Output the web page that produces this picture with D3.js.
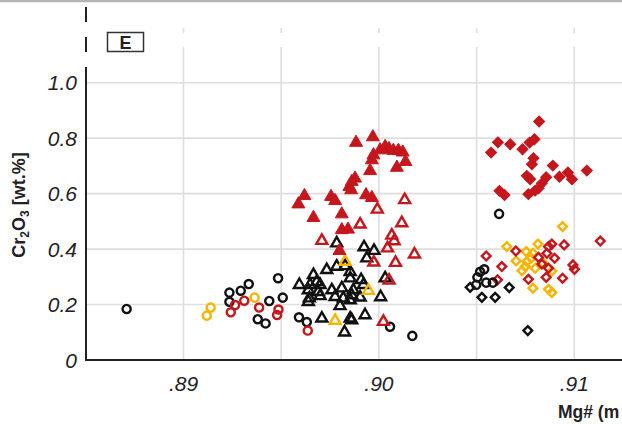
<!DOCTYPE html>
<html>
<head>
<meta charset="utf-8">
<script src="https://cdn.jsdelivr.net/npm/d3@7"></script>
<style>
  body { margin: 0; background: #fff; }
  svg { display: block; font-family: "Liberation Sans", Arial, sans-serif; }
</style>
</head>
<body>
<svg id="chart" width="622" height="424"></svg>
<script>
// Mg# vs Cr2O3 (wt.%), panel E
let xTicks = [0.89, 0.90, 0.91];
let xGrid = [0.89, 0.895, 0.90, 0.905, 0.91, 0.915];
let yTicks = [0, 0.2, 0.4, 0.6, 0.8, 1.0];
let xTickLabels = [".89", ".90", ".91"];

// [Mg#, Cr2O3]
let blackCircles = [[0.88709, 0.184], [0.89235, 0.243], [0.89235, 0.210], [0.89293, 0.250], [0.89334, 0.274],
    [0.89484, 0.295], [0.89439, 0.213], [0.89508, 0.225], [0.8938, 0.147], [0.8942, 0.132], [0.89591, 0.154],
    [0.89631, 0.137], [0.90057, 0.120], [0.90171, 0.087], [0.90615, 0.527], [0.90498, 0.271], [0.90549, 0.279],
    [0.90583, 0.279], [0.90504, 0.298], [0.90518, 0.318], [0.90539, 0.327]];
let yellowCircles = [[0.89139, 0.189], [0.89119, 0.160], [0.89364, 0.225]];
let redCircles = [[0.89264, 0.198], [0.89242, 0.172], [0.89311, 0.214], [0.89387, 0.189], [0.89486, 0.182],
    [0.89479, 0.162], [0.89636, 0.106]];

let blackTriangles = [[0.89784, 0.421], [0.89924, 0.407], [0.89975, 0.394], [0.89938, 0.367], [0.89733, 0.325],
    [0.89784, 0.337], [0.89827, 0.339], [0.89853, 0.318], [0.89665, 0.307], [0.89853, 0.295], [0.89909, 0.289],
    [0.90032, 0.295], [0.89593, 0.271], [0.89648, 0.271], [0.89682, 0.282], [0.89699, 0.271], [0.89639, 0.252],
    [0.8969, 0.246], [0.89759, 0.252], [0.8981, 0.259], [0.89869, 0.252], [0.89921, 0.271], [0.89644, 0.223],
    [0.89699, 0.231], [0.89776, 0.228], [0.89818, 0.223], [0.89861, 0.234], [0.89904, 0.226], [0.90009, 0.227],
    [0.89801, 0.195], [0.89853, 0.216], [0.89639, 0.210], [0.89708, 0.150], [0.89853, 0.150], [0.89861, 0.144],
    [0.89929, 0.162], [0.89824, 0.100]];
let yellowTriangles = [[0.89827, 0.355], [0.89946, 0.250], [0.89776, 0.142]];
let redTriangles = [[0.90132, 0.577], [0.89992, 0.543], [0.90117, 0.494], [0.89904, 0.489], [0.89708, 0.430],
    [0.90066, 0.449], [0.90078, 0.429], [0.90044, 0.403], [0.90182, 0.381], [0.89974, 0.352], [0.90085, 0.351],
    [0.90052, 0.287], [0.90023, 0.138]];
let redTrianglesFilled = [[0.89883, 0.784], [0.89969, 0.804], [0.90006, 0.757], [0.90032, 0.769], [0.90052, 0.761],
    [0.90074, 0.755], [0.901, 0.755], [0.90122, 0.749], [0.89972, 0.739], [0.89964, 0.721], [0.90136, 0.715],
    [0.90092, 0.694], [0.89955, 0.682], [0.89878, 0.655], [0.89861, 0.643], [0.89849, 0.625], [0.89858, 0.613],
    [0.89934, 0.595], [0.89964, 0.585], [0.89619, 0.592], [0.89588, 0.562], [0.89755, 0.589], [0.89776, 0.574],
    [0.89665, 0.513], [0.8981, 0.526], [0.8981, 0.469], [0.89842, 0.471], [0.89798, 0.394]];

let blackDiamonds = [[0.90467, 0.262], [0.90527, 0.226], [0.90595, 0.226], [0.90667, 0.261], [0.90762, 0.106]];
let yellowDiamonds = [[0.9094, 0.481], [0.90655, 0.409], [0.90814, 0.418], [0.90754, 0.391], [0.90788, 0.385],
    [0.90702, 0.357], [0.90757, 0.355], [0.90779, 0.367], [0.90839, 0.351], [0.90749, 0.337], [0.90732, 0.322],
    [0.908, 0.331], [0.90885, 0.321], [0.90788, 0.259], [0.90868, 0.255], [0.90885, 0.243]];
let redDiamonds = [[0.91133, 0.429], [0.90549, 0.375], [0.90701, 0.393], [0.90629, 0.337], [0.90817, 0.370],
    [0.90868, 0.409], [0.90885, 0.418], [0.90948, 0.415], [0.9086, 0.385], [0.90899, 0.367], [0.90834, 0.346],
    [0.90868, 0.331], [0.90993, 0.343], [0.91001, 0.327], [0.90856, 0.298], [0.90765, 0.291], [0.9094, 0.295],
    [0.90607, 0.289]];
let redDiamondsFilled = [[0.9082, 0.860], [0.90609, 0.785], [0.90672, 0.778], [0.90574, 0.748], [0.90735, 0.760],
    [0.90771, 0.784], [0.90796, 0.796], [0.90791, 0.728], [0.90783, 0.706], [0.9089, 0.701], [0.90757, 0.664],
    [0.90774, 0.652], [0.90856, 0.659], [0.90834, 0.637], [0.90817, 0.619], [0.908, 0.611], [0.90765, 0.598],
    [0.90924, 0.661], [0.90967, 0.676], [0.90988, 0.652], [0.91064, 0.683], [0.90617, 0.610], [0.90643, 0.595]];

const RED = "#c4161c", YEL = "#f7b500", BLK = "#111";

let svg = d3.select("#chart");
let left = 86, bottom = 360, right = 622;

let x = d3.scaleLinear().domain([0.89, 0.91]).range([183.5, 574.3]);
let y = d3.scaleLinear().domain([0, 1]).range([360, 82.7]);

// top border from previous panel
svg.append("line").attr("x1", 0).attr("x2", 622).attr("y1", 1).attr("y2", 1)
    .attr("stroke", "#b5b5b5").attr("stroke-width", 2.5);

// grid
let grid = svg.append("g").attr("stroke", "#dedede").attr("stroke-width", 1.6);
grid.selectAll(".hg").data(yTicks.filter(d => d > 0)).enter().append("line")
    .attr("x1", left).attr("x2", right)
    .attr("y1", d => y(d)).attr("y2", d => y(d));
grid.selectAll(".vg").data(xGrid).enter().append("line")
    .attr("x1", d => x(d)).attr("x2", d => x(d))
    .attr("y1", 47).attr("y2", bottom);
grid.selectAll(".vs").data(xGrid).enter().append("line")
    .attr("x1", d => x(d)).attr("x2", d => x(d))
    .attr("y1", 28).attr("y2", 33);

// axes
svg.append("line").attr("x1", left).attr("x2", left).attr("y1", 67).attr("y2", bottom + 1)
    .attr("stroke", "#222").attr("stroke-width", 2);
svg.append("line").attr("x1", left - 1).attr("x2", right).attr("y1", bottom).attr("y2", bottom)
    .attr("stroke", "#222").attr("stroke-width", 2);
[[7, 22], [37, 52]].forEach(function (s) {
    svg.append("line").attr("x1", left).attr("x2", left).attr("y1", s[0]).attr("y2", s[1])
        .attr("stroke", "#222").attr("stroke-width", 2);
});

// tick labels
svg.selectAll(".yl").data(yTicks).enter().append("text")
    .attr("x", 77).attr("y", d => y(d)).attr("dy", "0.36em")
    .attr("text-anchor", "end").attr("font-style", "italic").attr("font-size", 21)
    .attr("fill", "#222")
    .text(d => d === 0 ? "0" : d.toFixed(1));
svg.selectAll(".xl").data(xTicks).enter().append("text")
    .attr("x", (d, i) => x(d)).attr("y", 391)
    .attr("text-anchor", "middle").attr("font-style", "italic").attr("font-size", 21)
    .attr("fill", "#222")
    .text((d, i) => xTickLabels[i]);

// axis titles
let yt = svg.append("text").attr("transform", "translate(25,205) rotate(-90)")
    .attr("text-anchor", "middle").attr("font-weight", "bold").attr("font-size", 18).attr("fill", "#222");
yt.append("tspan").text("Cr");
yt.append("tspan").attr("font-size", 12).attr("dy", 4).text("2");
yt.append("tspan").attr("dy", -4).text("O");
yt.append("tspan").attr("font-size", 12).attr("dy", 4).text("3");
yt.append("tspan").attr("dy", -4).text(" [wt.%]");

// x title runs off the right edge in the source panel; only the visible part is kept
svg.append("text").attr("x", 558).attr("y", 418)
    .attr("font-weight", "bold").attr("font-size", 17.5).attr("fill", "#222")
    .text("Mg# (m");

// panel label
svg.append("rect").attr("x", 107.5).attr("y", 32.5).attr("width", 36).attr("height", 19)
    .attr("fill", "#fff").attr("stroke", "#333").attr("stroke-width", 1.5);
svg.append("text").attr("x", 125.5).attr("y", 48.5).attr("text-anchor", "middle")
    .attr("font-weight", "bold").attr("font-size", 18).attr("fill", "#222").text("E");

// markers
let marks = svg.append("g");
function drawSeries(data, shape, color, filled, size) {
    let sym = d3.symbol().type(shape).size(size);
    let rot = shape === d3.symbolSquare ? " rotate(45)" : "";
    marks.append("g").selectAll("path").data(data).enter().append("path")
        .attr("d", sym)
        .attr("transform", d => "translate(" + x(d[0]) + "," + y(d[1]) + ")" + rot)
        .attr("fill", filled ? color : "none")
        .attr("stroke", color)
        .attr("stroke-width", filled ? 1 : 2.4);
}

drawSeries(blackDiamonds, d3.symbolSquare, BLK, false, 38);
drawSeries(yellowDiamonds, d3.symbolSquare, YEL, false, 38);
drawSeries(redDiamonds, d3.symbolSquare, RED, false, 38);
drawSeries(redDiamondsFilled, d3.symbolSquare, RED, true, 60);

drawSeries(blackCircles, d3.symbolCircle, BLK, false, 52);
drawSeries(yellowCircles, d3.symbolCircle, YEL, false, 52);
drawSeries(redCircles, d3.symbolCircle, RED, false, 52);

drawSeries(blackTriangles, d3.symbolTriangle, BLK, false, 52);
drawSeries(yellowTriangles, d3.symbolTriangle, YEL, false, 52);
drawSeries(redTriangles, d3.symbolTriangle, RED, false, 52);
drawSeries(redTrianglesFilled, d3.symbolTriangle, RED, true, 72);
</script>
</body>
</html>
